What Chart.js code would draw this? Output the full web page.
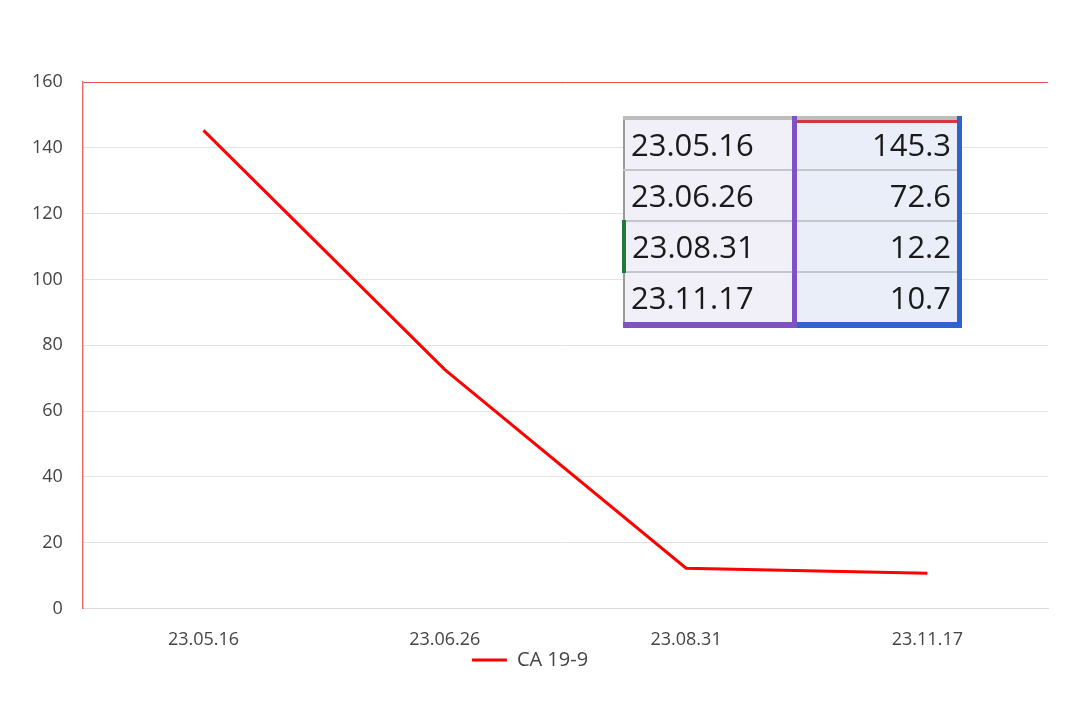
<!DOCTYPE html>
<html>
<head>
<meta charset="utf-8">
<script src="https://cdn.jsdelivr.net/npm/chart.js@4/dist/chart.umd.min.js"></script>
<style>
  html, body { margin: 0; padding: 0; background: #fff; }
  #wrap { position: relative; width: 1080px; height: 720px; }
  #inset {
    position: absolute; left: 622px; top: 116px;
    border-collapse: collapse; font-family: "Open Sans", "Noto Sans", sans-serif;
    font-size: 31px; color: #1a1a1a;
    border-top: 4px solid #bdbdbd;
  }
  #inset td { height: 49px; padding: 0 6px; border-bottom: 2px solid #c4c6cc; line-height: 1; }
  #inset td.d { width: 154px; background: #f1eff8; text-align: left; border-right: 5px solid #7f52c4; border-left: 2px solid #9a9a9a; }
  #inset td.v { width: 148px; background: #e9eef8; text-align: right; border-right: 5px solid #2f63c9; }
  #inset tr:first-child td.v { box-shadow: inset 0 3px 0 #d23a3a; }
  #inset tr:last-child td { border-bottom: 6px solid #7f52c4; }
  #inset tr:last-child td.v { border-bottom-color: #2f63c9; }
  #inset tr:nth-child(3) td.d { border-left: 4px solid #1e7b3c; }
</style>
</head>
<body>
<div id="wrap">
  <canvas id="c" width="1080" height="720"></canvas>
  <table id="inset"></table>
</div>
<script>
// category labels and CA 19-9 readings
const dates  = ['23.05.16', '23.06.26', '23.08.31', '23.11.17'];
const ca199  = [145.3, 72.6, 12.2, 10.7];
const yTicks = [0, 20, 40, 60, 80, 100, 120, 140, 160];

const RED = '#ff0000';

// the pasted spreadsheet snippet in the upper right
document.getElementById('inset').innerHTML = dates.map((d, i) =>
  `<tr><td class="d">${d}</td><td class="v">${ca199[i]}</td></tr>`
).join('');

new Chart(document.getElementById('c'), {
  type: 'line',
  data: {
    labels: dates,
    datasets: [{
      label: 'CA 19-9',
      data: ca199,
      borderColor: RED,
      backgroundColor: RED,
      borderWidth: 3,
      pointRadius: 0,
      pointStyle: 'line',
      tension: 0
    }]
  },
  options: {
    responsive: false,
    animation: false,
    layout: { padding: { top: 82, right: 32, left: 12, bottom: 40 } },
    scales: {
      x: {
        offset: true,
        grid: { display: false },
        border: { display: true, color: '#d9d9d9', width: 1 },
        ticks: { color: '#444', font: { family: 'Open Sans', size: 18 }, padding: 13 },
        // legend sits tight under the date labels
        afterFit: axis => { axis.height -= 19; }
      },
      y: {
        min: 0, max: 160,
        afterBuildTicks: axis => { axis.ticks = yTicks.map(v => ({ value: v })); },
        grid: {
          color: ctx => ctx.tick && ctx.tick.value === 160 ? '#e84c4c' : '#e3e3e3',
          drawTicks: false
        },
        border: { display: true, color: '#ee6b6b', width: 1.5 },
        ticks: { color: '#444', font: { family: 'Open Sans', size: 18 }, padding: 20 }
      }
    },
    plugins: {
      legend: {
        position: 'bottom',
        labels: {
          usePointStyle: true,
          pointStyleWidth: 35,
          boxWidth: 17,
          boxHeight: 10,
          color: '#444',
          font: { family: 'Open Sans', size: 20 },
          padding: 5
        }
      },
      tooltip: { enabled: false }
    }
  }
});
</script>
</body>
</html>
